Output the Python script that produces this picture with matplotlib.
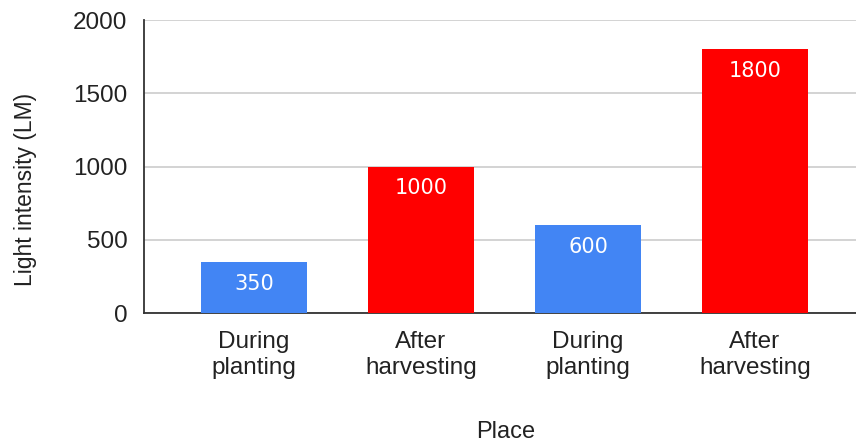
import matplotlib.pyplot as plt

# data
places = ['During\nplanting', 'After\nharvesting', 'During\nplanting', 'After\nharvesting']
intensity = [350, 1000, 600, 1800]
colors = ['#4285F4', '#FF0000', '#4285F4', '#FF0000']
yticks = [0, 500, 1000, 1500, 2000]

plt.rcParams['font.family'] = ['Liberation Sans', 'DejaVu Sans']

fig = plt.figure(figsize=(8.56, 4.45), dpi=100)
ax = fig.add_axes([0.1682, 0.2966, 0.8318, 0.6584])

x = range(len(places))
bars = ax.bar(x, intensity, width=0.64, color=colors, zorder=3)

# value labels inside the bars
for b, v in zip(bars, intensity):
    ax.text(b.get_x() + b.get_width() / 2, v - 150, str(v), ha='center', va='center',
            color='white', fontsize=15, family='DejaVu Sans', zorder=4)

ax.set_xlim(-0.659, 3.605)
ax.set_ylim(0, 2000)
ax.set_yticks(yticks)
ax.set_yticklabels([str(t) for t in yticks], fontsize=17.5, color='#222222')
ax.set_xticks(list(x))
ax.set_xticklabels(places, fontsize=17.5, color='#222222', linespacing=1.22)
ax.tick_params(axis='y', length=0, pad=12)
ax.tick_params(axis='x', length=0, pad=13)

ax.grid(axis='y', color='#cccccc', linewidth=1.2, zorder=0)
for s in ['top', 'right']:
    ax.spines[s].set_visible(False)
ax.spines['left'].set_color('#333333')
ax.spines['bottom'].set_color('#333333')
ax.spines['left'].set_linewidth(1.3)
ax.spines['bottom'].set_linewidth(1.3)

ax.set_ylabel('Light intensity (LM)', fontsize=16.5, color='#222222', va='center')
ax.yaxis.set_label_coords(-0.166, 0.423)
ax.set_xlabel('Place', fontsize=17, color='#222222', va='center')
ax.xaxis.set_label_coords(0.508, -0.406)

fig.savefig('out.png', dpi=100)
